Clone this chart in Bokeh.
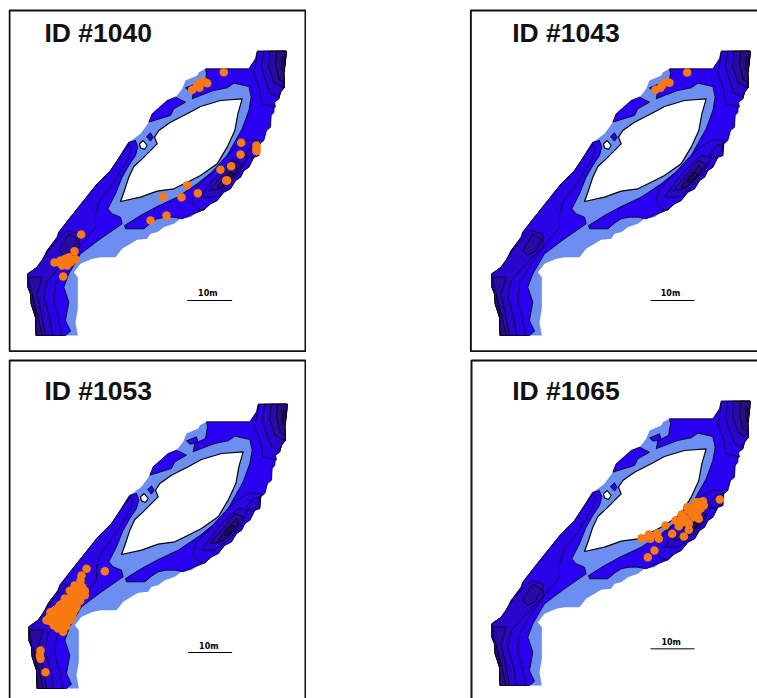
from bokeh.plotting import figure
from bokeh.layouts import column, row
from bokeh.models import Range1d, Spacer
from bokeh.embed import file_html
from bokeh.resources import INLINE
from bokeh.core.properties import value

panel_titles = ["ID #1040", "ID #1043", "ID #1053", "ID #1065"]
scale_label = "10m"

outline = [(770,152),(857,152),(855,180),(850,215),(852,260),(840,275),(835,295),(822,305),(820,335),(812,345),(810,380),(798,390),(790,420),(778,430),(775,465),(760,470),(745,500),(730,510),(720,530),(705,540),(690,565),(670,575),(650,600),(630,610),(610,630),(590,635),(570,650),(540,655),(520,670),(490,680),(470,695),(450,700),(440,715),(410,718),(390,730),(365,745),(345,770),(300,770),(275,775),(240,790),(220,815),(232,830),(232,925),(225,965),(232,1005),(107,1005),(105,950),(92,910),(90,880),(82,860),(82,820),(110,800),(125,780),(140,750),(170,710),(175,695),(210,650),(250,600),(290,550),(330,510),(350,480),(380,430),(420,400),(445,365),(455,340),(500,300),(525,290),(545,265),(555,240),(590,225),(595,215),(615,205),(700,205),(745,205),(765,175)]

east_band = [(615,205),(745,205),(765,175),(770,152),(857,152),(855,180),(850,215),(852,260),(840,275),(835,295),(822,305),(820,335),(812,345),(810,380),(798,390),(790,420),(778,430),(775,465),(760,470),(745,500),(730,510),(720,530),(705,540),(690,565),(670,575),(650,600),(630,610),(610,628),(580,640),(545,655),(520,650),(495,650),(470,655),(450,668),(430,685),(375,685),(372,675),(420,645),(470,618),(530,590),(590,550),(640,510),(680,465),(705,420),(725,385),(745,330),(752,290),(745,258),(700,248),(680,262),(640,270),(600,285),(575,295),(580,270),(612,255),(618,220)]

west_band = [(107,1005),(195,1005),(210,992),(195,960),(205,905),(190,860),(205,820),(240,760),(300,715),(365,670),(360,650),(335,640),(322,625),(345,580),(365,530),(385,495),(405,465),(412,440),(405,420),(385,425),(350,480),(330,510),(290,550),(250,600),(210,650),(175,695),(170,710),(140,750),(125,780),(110,800),(82,820),(82,860),(90,880),(92,910),(105,950)]

north_blob = [(445,365),(455,340),(500,300),(525,290),(555,305),(520,325),(510,345)]
notch_blob = [(555,262),(585,250),(590,268),(565,272)]
small_blob = [(438,408),(450,397),(458,410),(450,422)]
white_hole = [(417,430),(428,420),(440,435),(432,447),(420,442)]

island = [(360,603),(372,570),(385,530),(400,498),(425,475),(445,455),(470,430),(462,410),(475,390),(510,365),(560,340),(600,318),(660,300),(725,295),(712,340),(703,390),(680,440),(650,490),(600,525),(560,545),(520,565),(470,572),(420,590)]

level1 = [
    [(573,605),(585,565),(625,525),(665,480),(705,440),(745,418),(778,420),(775,465),(760,470),(745,500),(730,510),(720,530),(705,540),(690,565),(670,575),(650,600),(630,610),(610,628),(590,625)],
    [(772,152),(857,152),(855,180),(850,215),(852,260),(840,275),(835,295),(822,305),(825,320),(785,310),(775,260),(760,220)],
    [(82,820),(110,800),(125,780),(140,750),(170,710),(175,695),(210,650),(250,600),(290,550),(330,510),(350,480),(385,430),(395,445),(380,480),(340,545),(298,600),(285,640),(285,680),(240,735),(200,790),(165,850),(160,900),(175,960),(185,1005),(107,1005),(105,950),(92,910),(90,880),(82,860)],
]
level2 = [
    [(600,590),(625,555),(665,505),(710,465),(740,470),(715,520),(680,560),(640,590)],
    [(735,460),(755,435),(775,430),(770,455),(750,475)],
    [(790,152),(857,152),(855,180),(850,215),(852,260),(840,275),(835,290),(810,280),(795,240),(782,200)],
    [(82,820),(110,800),(130,770),(165,725),(200,690),(235,700),(235,740),(195,780),(140,840),(130,890),(150,960),(155,1005),(107,1005),(105,950),(92,910),(90,880),(82,860)],
]
level3 = [
    [(625,570),(665,525),(700,480),(725,490),(700,530),(660,565)],
    [(808,152),(857,152),(855,180),(850,215),(848,262),(820,245),(805,200)],
    [(175,750),(205,700),(230,715),(215,750),(190,765)],
    [(85,830),(125,830),(110,880),(125,950),(135,1005),(107,1005),(105,950),(92,910),(90,880)],
]
level4 = [
    [(650,560),(680,520),(705,495),(712,510),(685,545),(665,560)],
    [(828,152),(857,152),(855,180),(850,215),(852,245),(835,235),(825,190)],
    [(95,880),(105,920),(115,960),(125,1005),(107,1005),(105,950)],
]
level5 = [
    [(668,545),(690,515),(700,520),(680,545)],
    [(845,170),(855,175),(852,215),(843,205)],
]

sightings_1040 = [(670,215),(600,245),(590,255),(610,243),(620,248),(575,268),(597,262),(722,427),(768,435),(768,445),(768,452),(720,462),(692,497),(660,508),(677,540),(680,540),(592,578),(560,554),(543,590),(487,589),(498,645),(450,660),(242,702),(222,752),(225,776),(162,786),(180,780),(195,775),(185,795),(200,795),(210,785),(205,770),(188,828),(175,785),(190,785)]
sightings_1043 = [(668,216),(573,268),(593,255),(603,245),(615,247),(588,262)]
sightings_1053 = [(255,646),(240,666),(237,681),(310,653),(219,696),(232,706),(242,721),(212,716),(202,736),(227,736),(182,751),(212,751),(147,776),(167,766),(197,771),(222,766),(142,801),(167,796),(192,796),(212,791),(157,816),(182,826),(192,811),(117,891),(115,906),(117,916),(132,956),(222,716),(210,730),(195,745),(225,750),(180,770),(160,785),(200,785),(175,785),(150,805),(175,810),(185,790),(210,770),(190,760),(145,790),(160,770),(175,755),(190,735),(205,712),(242,700),(250,712),(250,725),(236,742),(225,760),(215,778),(205,800),(195,818),(185,835),(170,825),(135,800)]
sightings_1065 = [(766,447),(715,452),(703,455),(693,455),(668,470),(688,470),(718,465),(708,475),(673,480),(683,490),(698,490),(703,505),(653,495),(663,505),(633,510),(648,510),(673,520),(643,527),(603,525),(673,538),(553,552),(578,548),(531,563),(558,565),(583,565),(623,550),(658,558),(570,600),(550,620),(651,492),(688,500),(663,515)]

light_blue = "#6B8EF0"
level_colors = ["#2A00F2", "#2A02E6", "#2A06CC", "#2A0AA4", "#280C80", "#220A60"]


def xy(poly):
    return [q[0] for q in poly], [q[1] for q in poly]


def draw_map(p):
    x, y = xy(outline)
    p.patch(x, y, fill_color=light_blue, line_color=None)
    for poly in [east_band, west_band, north_blob, notch_blob, small_blob]:
        x, y = xy(poly)
        p.patch(x, y, fill_color=level_colors[0], line_color="black", line_width=0.8)
    for colour, polys in zip(level_colors[1:], [level1, level2, level3, level4, level5]):
        for poly in polys:
            x, y = xy(poly)
            p.patch(x, y, fill_color=colour, line_color="black", line_width=0.7)
    for poly in [island, white_hole]:
        x, y = xy(poly)
        p.patch(x, y, fill_color="white", line_color="black", line_width=1.2)


def panel(w, h, xr, yr, frame, title, title_at, bar, label_at, points):
    p = figure(width=w, height=h, x_range=Range1d(*xr), y_range=Range1d(*yr),
               output_backend="svg", toolbar_location=None, min_border=0,
               outline_line_color=None, background_fill_color="white")
    p.axis.visible = False
    p.grid.visible = False
    draw_map(p)
    x, y = xy(points)
    p.scatter(x, y, size=8.5, fill_color="#F97A12", line_color=None)
    p.quad(left=[frame[0]], right=[frame[1]], top=[frame[2]], bottom=[frame[3]],
           fill_color=None, line_color="#111111", line_width=2)
    p.text([title_at[0]], [title_at[1]], text=[title], text_font=value("Liberation Sans"),
           text_font_size="26.5px", text_font_style="bold", text_color="#111111", text_baseline="alphabetic")
    p.line([bar[0], bar[1]], [bar[2], bar[2]], line_color="black", line_width=1)
    p.text([label_at[0]], [label_at[1]], text=[scale_label], text_font=value("DejaVu Sans"),
           text_font_style="bold", text_font_size="8px", text_color="black",
           text_align="center", text_baseline="alphabetic")
    return p


p1 = panel(298, 344, (24, 918), (1056, 24), (27, 915, 30, 1052), panel_titles[0], (132, 97), (560, 695, 900), (622, 878), sightings_1040)
p2 = panel(288, 344, (15, 879), (1056, 24), (19, 1000, 30, 1052), panel_titles[1], (143, 97), (558, 690, 900), (618, 880), sightings_1043)
p3 = panel(298, 346, (21, 915), (1035, -3), (24, 912, 21, 1100), panel_titles[2], (129, 111), (560, 692, 897), (622, 878), sightings_1053)
p4 = panel(288, 346, (15, 879), (1044, 6), (21, 1000, 30, 1100), panel_titles[3], (143, 120), (558, 690, 895), (620, 875), sightings_1065)

page = column(
    Spacer(height=8),
    row(Spacer(width=8), p1, Spacer(width=163), p2, spacing=0),
    row(Spacer(width=8), p3, Spacer(width=163), p4, spacing=0),
    spacing=0,
)

open("out.html", "w").write(file_html(page, INLINE))
